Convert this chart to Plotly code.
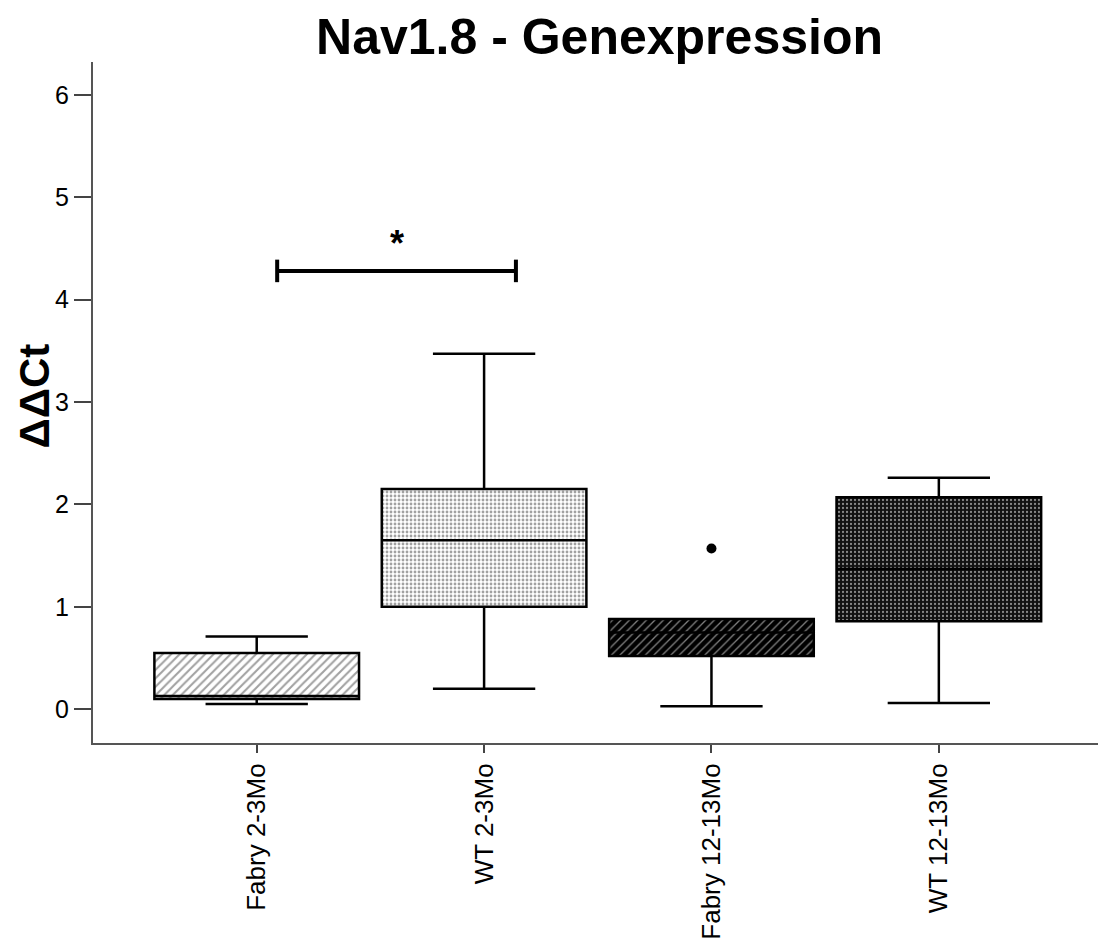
import plotly.graph_objects as go

categories = ["Fabry 2-3Mo", "WT 2-3Mo", "Fabry 12-13Mo", "WT 12-13Mo"]
q1 = [0.10, 1.00, 0.52, 0.86]
median = [0.13, 1.65, 0.75, 1.37]
q3 = [0.55, 2.15, 0.88, 2.07]
lower_whisker = [0.05, 0.20, 0.03, 0.06]
upper_whisker = [0.71, 3.47, 0.88, 2.26]
outlier_x = ["Fabry 12-13Mo"]
outlier_y = [1.57]

# significance bracket (category positions and height)
sig_from = 0.09
sig_to = 1.14
sig_y = 4.28
sig_tick = 0.11
sig_label = "*"

y_ticks = [0, 1, 2, 3, 4, 5, 6]

pattern_shape = ["/", ".", "/", "."]
pattern_bg = ["#ffffff", "#ffffff", "#000000", "#111111"]
pattern_fg = ["#111111", "#444444", "#ffffff", "#ffffff"]
pattern_size = [6, 4, 6, 4]
pattern_solid = [0.35, 0.4, 0.22, 0.25]

FONT = "Liberation Sans, Arial, sans-serif"

fig = go.Figure()

# patterned box fill
fig.add_trace(go.Bar(
    x=categories,
    y=[b - a for a, b in zip(q1, q3)],
    base=q1,
    width=0.9,
    marker=dict(
        color=pattern_bg,
        line=dict(width=0),
        pattern=dict(shape=pattern_shape, fgcolor=pattern_fg, bgcolor=pattern_bg,
                     size=pattern_size, solidity=pattern_solid, fillmode="overlay"),
    ),
    hoverinfo="skip",
    showlegend=False,
))

fig.add_trace(go.Box(
    x=categories,
    q1=q1,
    median=median,
    q3=q3,
    lowerfence=lower_whisker,
    upperfence=upper_whisker,
    width=0.9,
    whiskerwidth=0.5,
    fillcolor="rgba(0,0,0,0)",
    line=dict(color="black", width=2.5),
    boxpoints=False,
    showlegend=False,
))

fig.add_trace(go.Scatter(
    x=outlier_x, y=outlier_y, mode="markers",
    marker=dict(color="black", size=10, symbol="circle"),
    showlegend=False,
))

# significance bracket
fig.add_shape(type="line", x0=sig_from, x1=sig_to, y0=sig_y, y1=sig_y,
              xref="x", yref="y", line=dict(color="black", width=4))
for xx in (sig_from, sig_to):
    fig.add_shape(type="line", x0=xx, x1=xx, y0=sig_y - sig_tick, y1=sig_y + sig_tick,
                  xref="x", yref="y", line=dict(color="black", width=4))
fig.add_annotation(x=(sig_from + sig_to) / 2, y=sig_y + 0.05, xref="x", yref="y",
                   text="<b>" + sig_label + "</b>", showarrow=False, yanchor="bottom",
                   font=dict(family=FONT, size=36, color="black"))

# y axis title
fig.add_annotation(x=-0.058, y=0.51, xref="paper", yref="paper",
                   text="<b>ΔΔCt</b>", textangle=-90, showarrow=False,
                   xanchor="center", yanchor="middle",
                   font=dict(family=FONT, size=42, color="black"))

fig.update_layout(
    width=1098, height=950,
    margin=dict(l=93, r=0, t=62, b=207),
    paper_bgcolor="white", plot_bgcolor="white",
    title=dict(text="<b>Nav1.8 - Genexpression</b>", x=0.546, xref="container",
               y=0.962, yref="container", xanchor="center", yanchor="middle",
               font=dict(family=FONT, size=50, color="black")),
    barmode="overlay",
    boxmode="overlay",
    font=dict(family=FONT, color="black"),
)

fig.update_xaxes(
    type="category", categoryorder="array", categoryarray=categories,
    range=[-0.72, 3.7], automargin=False,
    showline=True, linecolor="#555555", linewidth=2,
    ticks="outside", ticklen=8, tickwidth=2, tickcolor="#444444",
    tickangle=-90, tickfont=dict(family=FONT, size=26, color="black"),
    showgrid=False, zeroline=False,
)
fig.update_yaxes(
    range=[-0.33, 6.32], tickvals=y_ticks, automargin=False,
    showline=True, linecolor="#555555", linewidth=2,
    ticks="outside", ticklen=17, tickwidth=2, tickcolor="#444444",
    tickfont=dict(family=FONT, size=25, color="black"),
    showgrid=False, zeroline=False,
)

fig.write_html("out.html")
